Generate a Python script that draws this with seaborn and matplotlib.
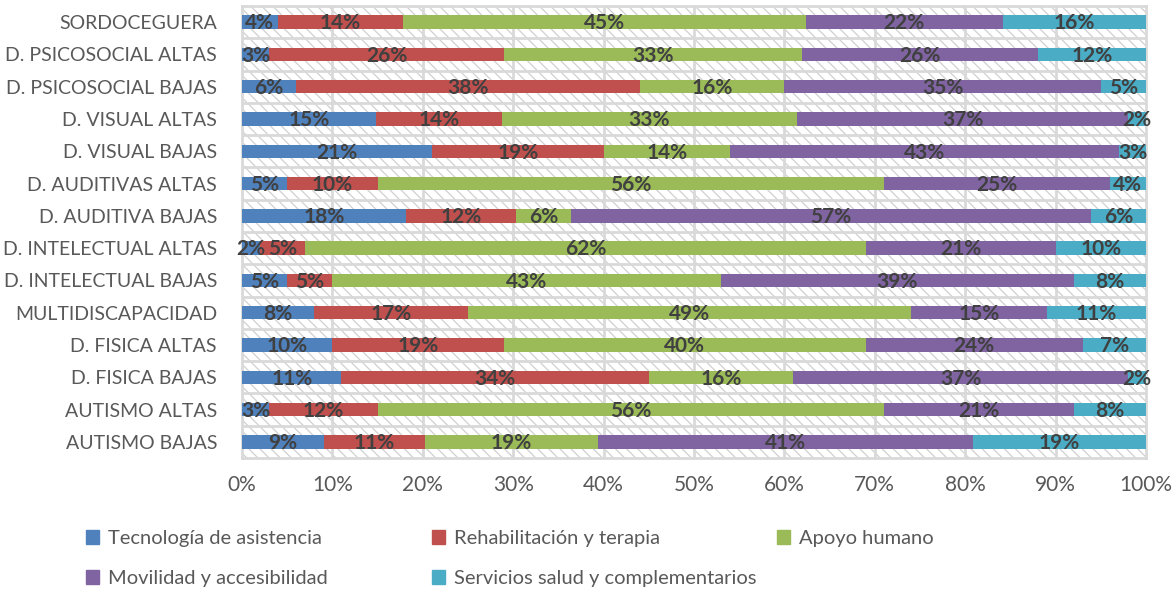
import matplotlib
matplotlib.use("Agg")
import matplotlib.pyplot as plt
import matplotlib.patches as mpatches
import seaborn as sns
import numpy as np
import pandas as pd

# categorias (de arriba hacia abajo)
grupos = ["SORDOCEGUERA", "D. PSICOSOCIAL ALTAS", "D. PSICOSOCIAL BAJAS",
          "D. VISUAL ALTAS", "D. VISUAL BAJAS", "D. AUDITIVAS ALTAS",
          "D. AUDITIVA BAJAS", "D. INTELECTUAL ALTAS", "D. INTELECTUAL BAJAS",
          "MULTIDISCAPACIDAD", "D. FISICA ALTAS", "D. FISICA BAJAS",
          "AUTISMO ALTAS", "AUTISMO BAJAS"]

series = ["Tecnología de asistencia", "Rehabilitación y terapia", "Apoyo humano",
          "Movilidad y accesibilidad", "Servicios salud y complementarios"]

tecnologia = [4, 3, 6, 15, 21, 5, 18, 2, 5, 8, 10, 11, 3, 9]
rehabilitacion = [14, 26, 38, 14, 19, 10, 12, 5, 5, 17, 19, 34, 12, 11]
apoyo = [45, 33, 16, 33, 14, 56, 6, 62, 43, 49, 40, 16, 56, 19]
movilidad = [22, 26, 35, 37, 43, 25, 57, 21, 39, 15, 24, 37, 21, 41]
servicios = [16, 12, 5, 2, 3, 4, 6, 10, 8, 11, 7, 2, 8, 19]

xticks = np.arange(0, 101, 10)
xtick_labels = [f"{v}%" for v in xticks]

colores = ["#4F81BD", "#C0504D", "#9BBB59", "#8064A2", "#4BACC6"]

sns.set_theme(style="white")
plt.rcParams["font.family"] = ["Lato", "DejaVu Sans"]
plt.rcParams["hatch.linewidth"] = 0.9

valores = np.array([tecnologia, rehabilitacion, apoyo, movilidad, servicios], dtype=float)
totales = valores.sum(axis=0)
pct = valores / totales * 100  # 100% apilado

fig = plt.figure(figsize=(11.76, 5.91), dpi=100)
ax = fig.add_axes([242 / 1176, 1 - 458 / 591, 904 / 1176, 452 / 591])

# fondo rayado
fondo = mpatches.Rectangle((0, 0), 1, 1, transform=ax.transAxes, facecolor="white",
                           edgecolor="#d0d0d0", hatch="\\\\\\", linewidth=0, zorder=0)
ax.add_patch(fondo)

izq = np.zeros(len(grupos))
for i, nombre in enumerate(series):
    df = pd.DataFrame({"grupo": grupos, "valor": pct[i]})
    sns.barplot(data=df, x="valor", y="grupo", orient="h", color=colores[i],
                left=izq.copy(), width=0.42, linewidth=0, saturation=1,
                ax=ax, zorder=3)
    for j in range(len(grupos)):
        ax.text(izq[j] + pct[i][j] / 2, j + 0.04, f"{int(valores[i][j])}%",
                ha="center", va="center", fontsize=15, fontweight="bold",
                color="#404040", zorder=5)
    izq += pct[i]

ax.set_xlim(0, 100)
ax.set_ylim(len(grupos) - 0.5, -0.5)
ax.set_xticks(xticks)
ax.set_xticklabels(xtick_labels)
ax.set_xlabel("")
ax.set_ylabel("")

gris = "#d9d9d9"
for x in xticks[1:-1]:
    ax.axvline(x, color=gris, lw=2, zorder=1)
for y in np.arange(0.5, len(grupos) - 1, 1):
    ax.axhline(y, color=gris, lw=2, zorder=1)
for s in ax.spines.values():
    s.set_color(gris)
    s.set_linewidth(2)

ax.tick_params(axis="x", labelsize=15, colors="#595959", length=0, pad=12)
ax.tick_params(axis="y", labelsize=14, colors="#595959", length=0, pad=18)

# leyenda en 3 columnas a ancho fijo
handles = [mpatches.Patch(color=c, label=s) for c, s in zip(colores, series)]
columnas = [[0, 3], [1, 4], [2]]
x_col = [84, 430, 775]
for xc, idx in zip(x_col, columnas):
    leg = fig.legend(handles=[handles[k] for k in idx], loc="upper left",
                     bbox_to_anchor=(xc / 1176, 1 - 528 / 591), frameon=False,
                     fontsize=14.5, handlelength=0.65, handleheight=0.65,
                     handletextpad=0.45, labelspacing=1.15, borderaxespad=0,
                     borderpad=0.1)
    for t in leg.get_texts():
        t.set_color("#595959")

fig.savefig("out.png", dpi=100)
